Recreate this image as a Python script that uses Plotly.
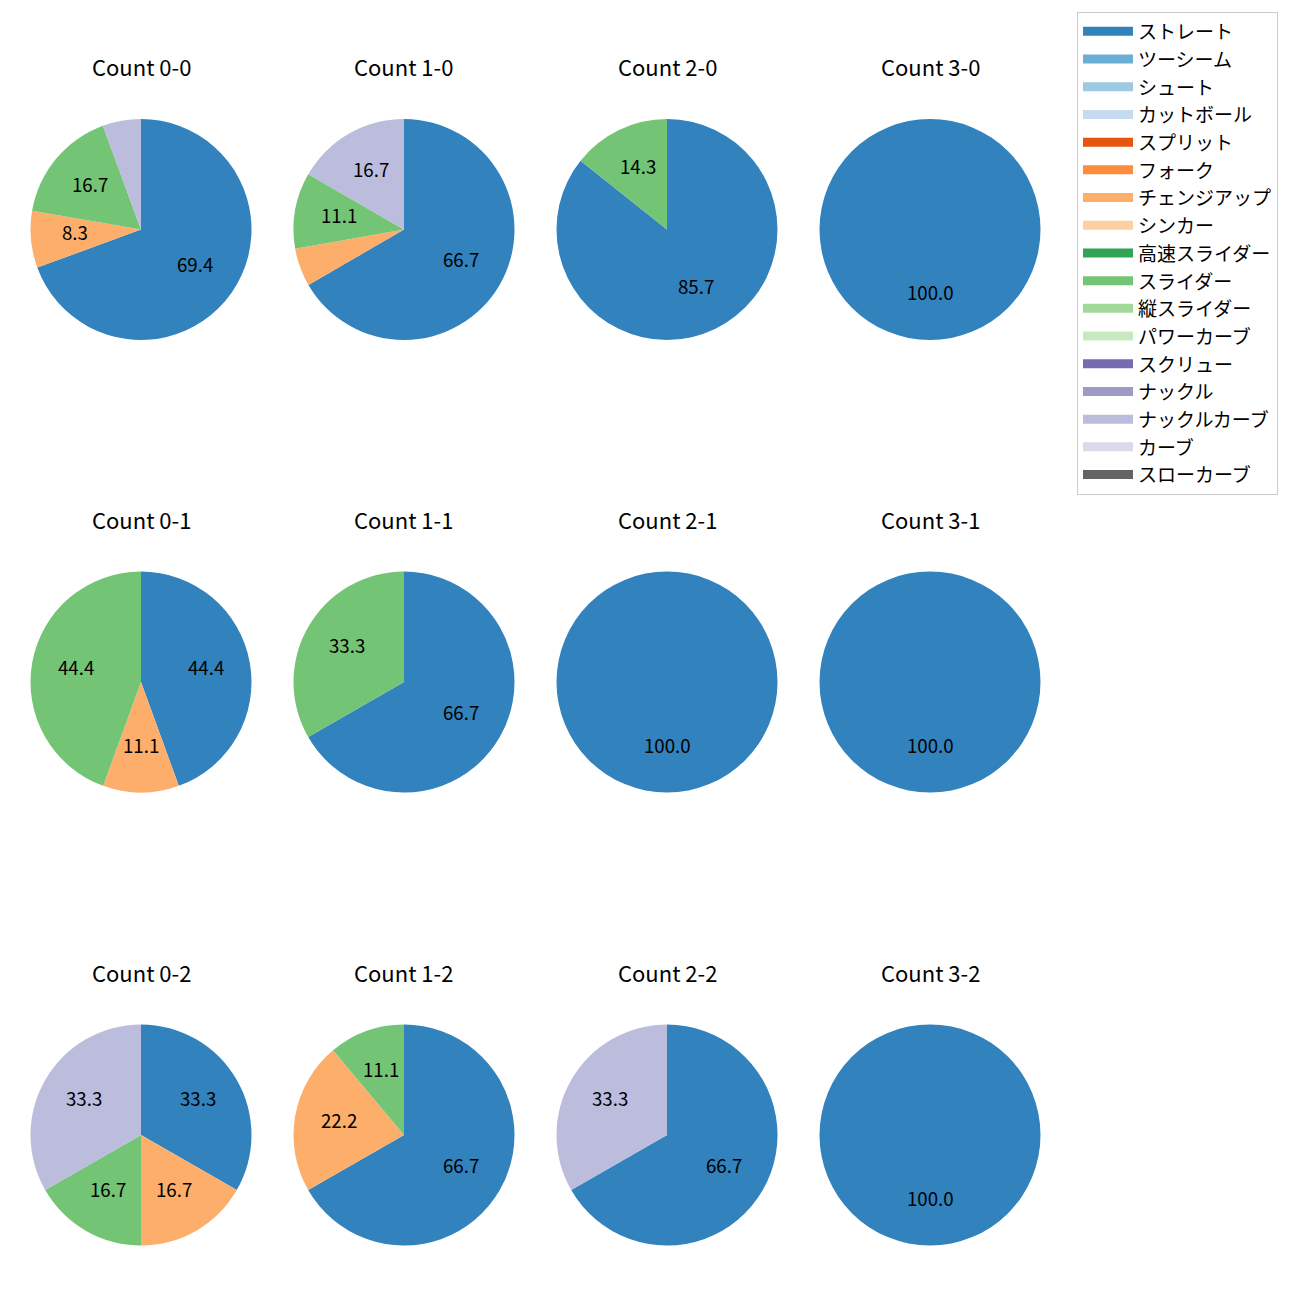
import math
import plotly.graph_objects as go

# ---- categories / colours (legend order) ----
pitch_types = ["ストレート", "ツーシーム", "シュート", "カットボール", "スプリット", "フォーク",
               "チェンジアップ", "シンカー", "高速スライダー", "スライダー", "縦スライダー",
               "パワーカーブ", "スクリュー", "ナックル", "ナックルカーブ", "カーブ", "スローカーブ"]
pitch_colors = ["#3182bd", "#6baed6", "#9ecae1", "#c6dbef", "#e6550d", "#fd8d3c",
                "#fdae6b", "#fdd0a2", "#31a354", "#74c476", "#a1d99b", "#c7e9c0",
                "#756bb1", "#9e9ac8", "#bcbddc", "#dadaeb", "#636363"]

# ---- per-count data (percent) ----
count_titles = ["Count 0-0", "Count 1-0", "Count 2-0", "Count 3-0",
                "Count 0-1", "Count 1-1", "Count 2-1", "Count 3-1",
                "Count 0-2", "Count 1-2", "Count 2-2", "Count 3-2"]

c00_labels = ["ストレート", "チェンジアップ", "スライダー", "ナックルカーブ"]
c00_values = [69.4, 8.3, 16.7, 5.6]
c10_labels = ["ストレート", "チェンジアップ", "スライダー", "ナックルカーブ"]
c10_values = [66.7, 5.6, 11.1, 16.7]
c20_labels = ["ストレート", "スライダー"]
c20_values = [85.7, 14.3]
c30_labels = ["ストレート"]
c30_values = [100.0]
c01_labels = ["ストレート", "チェンジアップ", "スライダー"]
c01_values = [44.4, 11.1, 44.4]
c11_labels = ["ストレート", "スライダー"]
c11_values = [66.7, 33.3]
c21_labels = ["ストレート"]
c21_values = [100.0]
c31_labels = ["ストレート"]
c31_values = [100.0]
c02_labels = ["ストレート", "チェンジアップ", "スライダー", "ナックルカーブ"]
c02_values = [33.3, 16.7, 16.7, 33.3]
c12_labels = ["ストレート", "チェンジアップ", "スライダー"]
c12_values = [66.7, 22.2, 11.1]
c22_labels = ["ストレート", "ナックルカーブ"]
c22_values = [66.7, 33.3]
c32_labels = ["ストレート"]
c32_values = [100.0]

all_labels = [c00_labels, c10_labels, c20_labels, c30_labels,
              c01_labels, c11_labels, c21_labels, c31_labels,
              c02_labels, c12_labels, c22_labels, c32_labels]
all_values = [c00_values, c10_values, c20_values, c30_values,
              c01_values, c11_values, c21_values, c31_values,
              c02_values, c12_values, c22_values, c32_values]

# ---- layout geometry ----
W = H = 1300
FONT = "Noto Sans CJK JP"
col_cx = [141, 404, 667, 930]
row_cy = [229.5, 682, 1135]
R = 110.5
TITLE_OFFSET = 163
LABEL_MIN = 7.0
PCT_DIST = 0.6

color_map = dict(zip(pitch_types, pitch_colors))

fig = go.Figure()
annotations = []

for i, (title, labels, values) in enumerate(zip(count_titles, all_labels, all_values)):
    r_i, c_i = divmod(i, 4)
    cx, cy = col_cx[c_i], row_cy[r_i]
    fig.add_trace(go.Pie(
        labels=labels, values=values,
        marker=dict(colors=[color_map[l] for l in labels], line=dict(width=0)),
        sort=False, direction="clockwise", rotation=0,
        textinfo="none", hoverinfo="label+percent",
        showlegend=False,
        domain=dict(x=[(cx - R) / W, (cx + R) / W], y=[1 - (cy + R) / H, 1 - (cy - R) / H]),
    ))
    annotations.append(dict(
        text=title, x=cx / W, y=1 - (cy - TITLE_OFFSET) / H, xref="paper", yref="paper",
        showarrow=False, font=dict(family=FONT, size=22, color="black"),
        xanchor="center", yanchor="middle"))
    total = sum(values)
    cum = 0.0
    for v in values:
        mid = (cum + v / 2) / total * 2 * math.pi
        cum += v
        if v < LABEL_MIN:
            continue
        tx = cx + PCT_DIST * R * math.sin(mid)
        ty = cy - PCT_DIST * R * math.cos(mid)
        annotations.append(dict(
            text=f"{v:.1f}", x=tx / W, y=1 - ty / H, xref="paper", yref="paper",
            showarrow=False, font=dict(family=FONT, size=18.7, color="black"),
            xanchor="center", yanchor="middle", yshift=4))

# legend entries
for name, col in zip(pitch_types, pitch_colors):
    fig.add_trace(go.Scatter(x=[None], y=[None], mode="lines", name=name, fill="toself",
                             fillcolor=col, line=dict(color=col, width=6), showlegend=True,
                             hoverinfo="skip"))

fig.update_layout(
    width=W, height=H,
    margin=dict(l=0, r=0, t=0, b=0),
    paper_bgcolor="white", plot_bgcolor="white",
    xaxis=dict(visible=False), yaxis=dict(visible=False),
    annotations=annotations,
    font=dict(family=FONT, size=19, color="black"),
    legend=dict(x=1077 / W, y=1 - 12 / H, xanchor="left", yanchor="top",
                bgcolor="white", bordercolor="#cccccc", borderwidth=1,
                font=dict(family=FONT, size=19), itemwidth=50, tracegroupgap=0),
)

fig.write_html("out.html", config={"displayModeBar": False},
               post_script="document.body.style.margin='0';")
